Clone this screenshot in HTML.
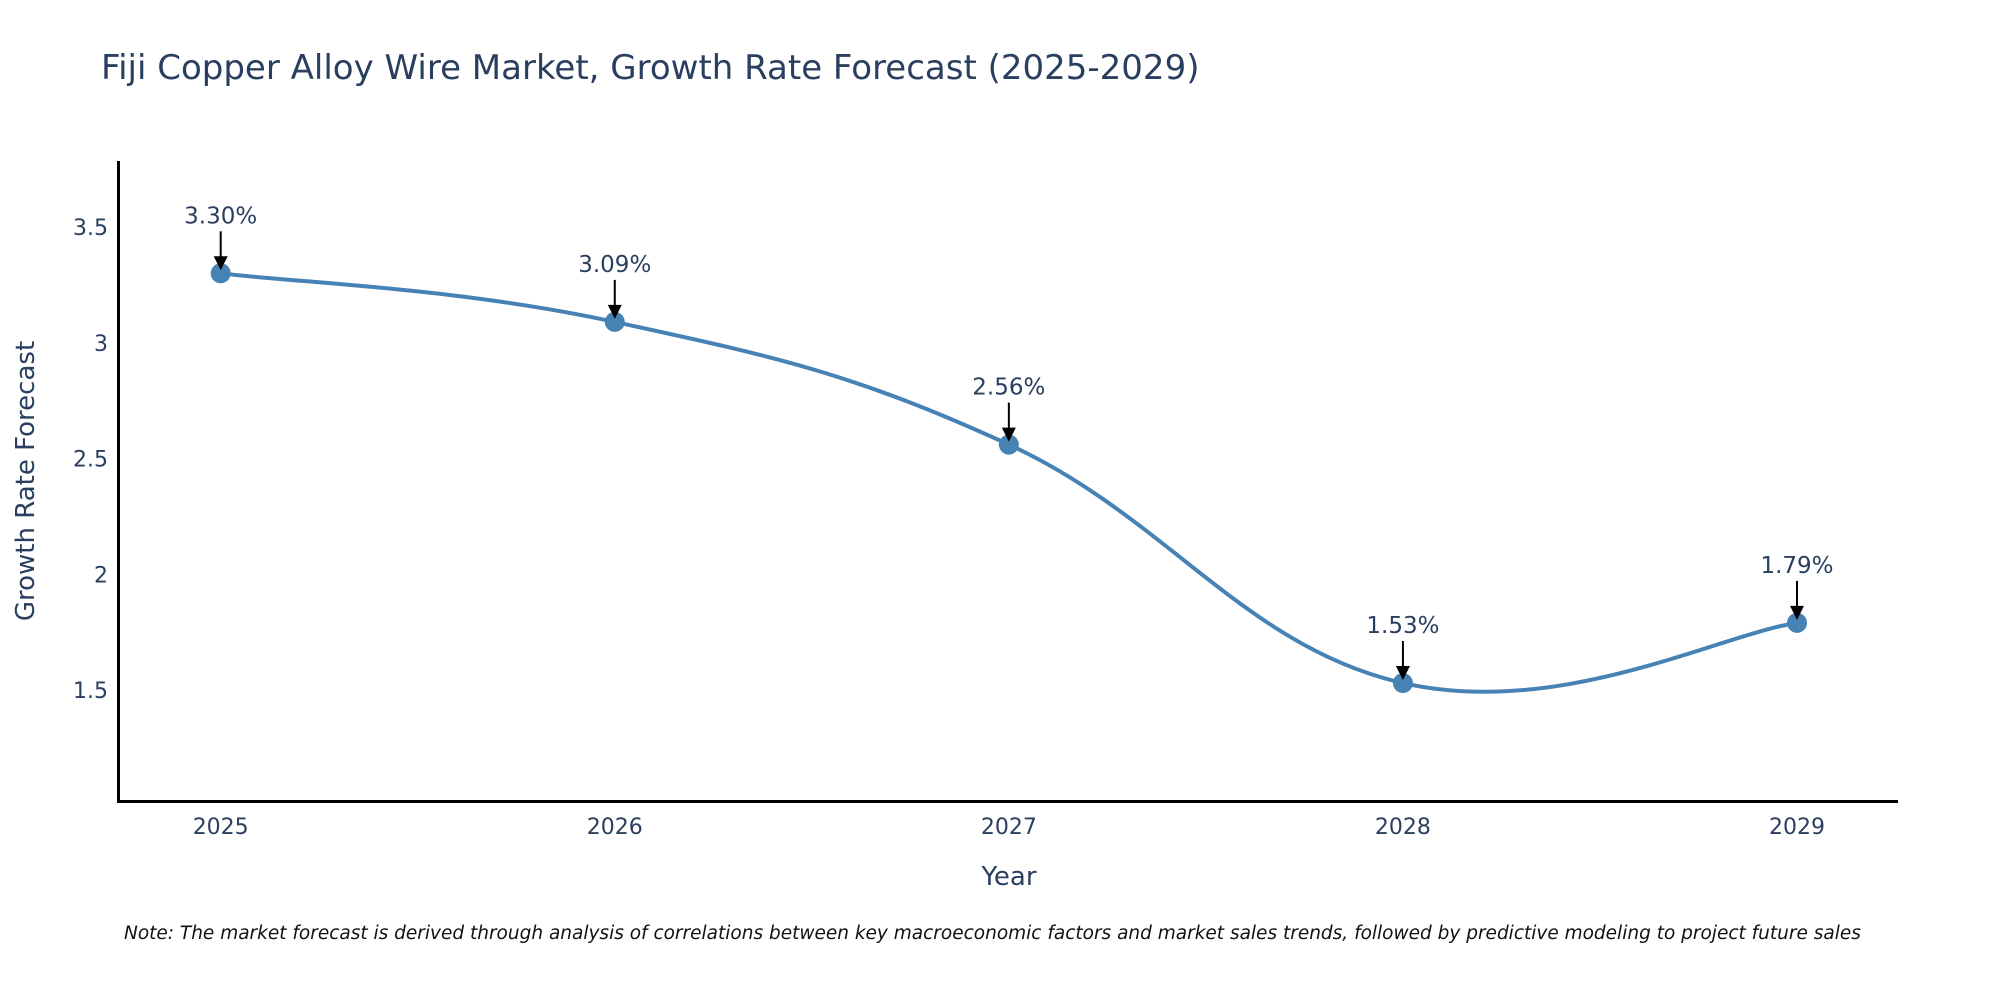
<!DOCTYPE html>
<html><head><meta charset="utf-8"><style>
body{margin:0;background:#fff;}
svg text{font-family:"DejaVu Sans","Liberation Sans",sans-serif;fill:#2a3f5f;}
</style></head><body>
<svg id="chart" width="2000" height="1000" xmlns="http://www.w3.org/2000/svg">
<text x="101" y="79" font-size="34">Fiji Copper Alloy Wire Market, Growth Rate Forecast (2025-2029)</text>
<g id="yticks"></g><g id="xticks"></g>
<line x1="118.5" y1="161" x2="118.5" y2="802" stroke="#000" stroke-width="3"/>
<line x1="117" y1="801.5" x2="1898" y2="801.5" stroke="#000" stroke-width="3"/>
<path id="line" fill="none" stroke="#4682b4" stroke-width="4"/>
<g id="marks"></g>
<text x="1009" y="885" font-size="26" text-anchor="middle">Year</text>
<text transform="translate(34,481) rotate(-90)" font-size="26" text-anchor="middle">Growth Rate Forecast</text>
<text x="124" y="939" font-size="18.5" font-style="italic" style="fill:#111">Note: The market forecast is derived through analysis of correlations between key macroeconomic factors and market sales trends, followed by predictive modeling to project future sales</text>
</svg>
<script>
const years=[2025,2026,2027,2028,2029];
const rates=[3.30,3.09,2.56,1.53,1.79];
const labels=["3.30%","3.09%","2.56%","1.53%","1.79%"];
const yTicks=[1.5,2,2.5,3,3.5];
const yTickLabels=["1.5","2","2.5","3","3.5"];
const NS="http://www.w3.org/2000/svg";
const X=v=>220.7+(v-2025)*(1797-220.7)/4;
const Y=v=>690-(v-1.5)*(463/2);
const svg=document.getElementById('chart');
function mk(t,a,p){const e=document.createElementNS(NS,t);for(const k in a)e.setAttribute(k,a[k]);(p||svg).appendChild(e);return e;}
const yt=document.getElementById('yticks');
yTicks.forEach((v,i)=>{const t=mk('text',{x:108,y:Y(v)+8,'font-size':22,'text-anchor':'end'},yt);t.textContent=yTickLabels[i];

});
const xt=document.getElementById('xticks');
years.forEach(v=>{const t=mk('text',{x:X(v),y:834,'font-size':22,'text-anchor':'middle'},xt);t.textContent=v;

});
const pts=years.map((y,i)=>[X(y),Y(rates[i])]);
let d=`M${pts[0][0]},${pts[0][1]}`;
for(let i=0;i<pts.length-1;i++){const p0=pts[Math.max(0,i-1)],p1=pts[i],p2=pts[i+1],p3=pts[Math.min(pts.length-1,i+2)];const k=0.2;
d+=` C${p1[0]+(p2[0]-p0[0])*k},${p1[1]+(p2[1]-p0[1])*k} ${p2[0]-(p3[0]-p1[0])*k},${p2[1]-(p3[1]-p1[1])*k} ${p2[0]},${p2[1]}`;}
document.getElementById('line').setAttribute('d',d);
const mg=document.getElementById('marks');
pts.forEach((p,i)=>{
const c=mk('circle',{cx:p[0],cy:p[1],r:10,fill:'#4682b4'},mg);


const l=mk('line',{x1:p[0],y1:p[1]-42,x2:p[0],y2:p[1]-16,stroke:'#000','stroke-width':2},mg);


const h=mk('polygon',{points:`${p[0]-7},${p[1]-17} ${p[0]+7},${p[1]-17} ${p[0]},${p[1]-3}`,fill:'#000'},mg);


const t=mk('text',{x:p[0],y:p[1]-50,'font-size':23,'text-anchor':'middle'},mg);t.textContent=labels[i];

});
</script>
</body></html>
